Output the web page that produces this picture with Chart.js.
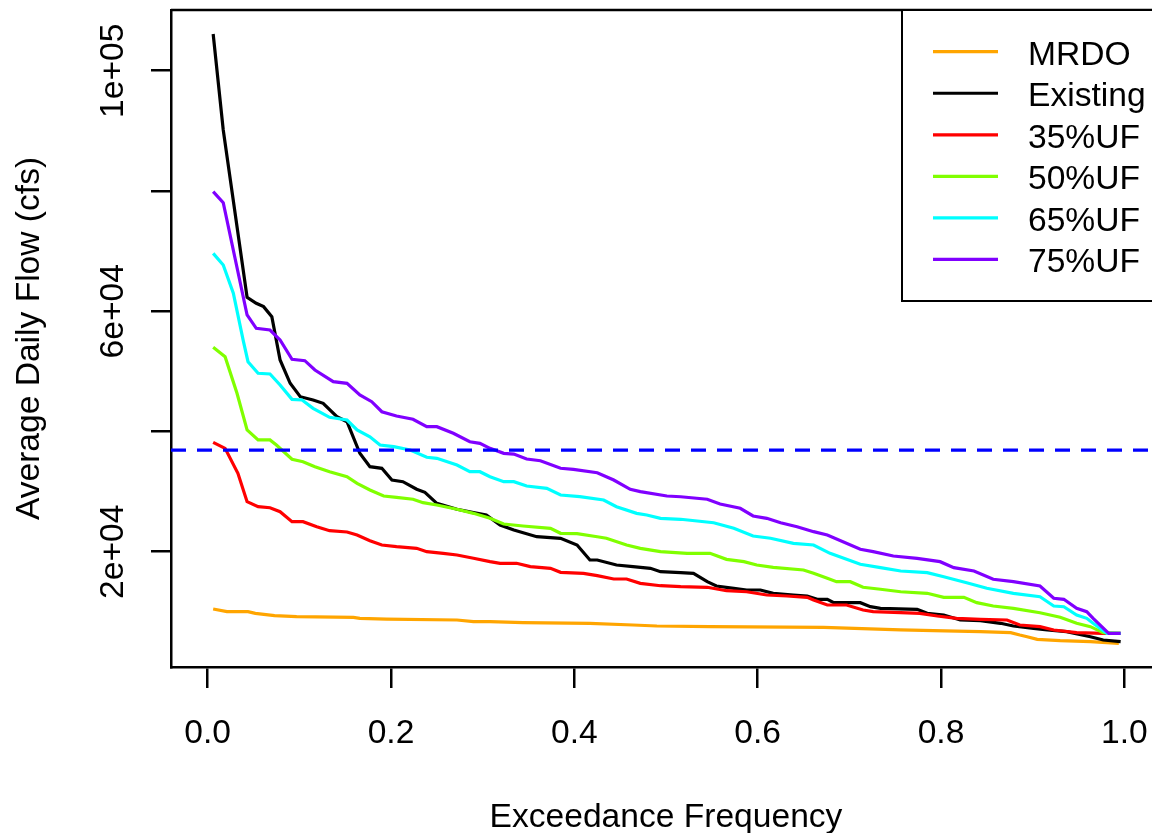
<!DOCTYPE html>
<html>
<head>
<meta charset="utf-8">
<script src="https://cdn.jsdelivr.net/npm/chart.js@4.4.1/dist/chart.umd.min.js"></script>
<style>
  html, body { margin: 0; padding: 0; background: #fff; }
  #wrap { width: 1152px; height: 833px; }
</style>
</head>
<body>
<div id="wrap"><canvas id="c" width="1152" height="833"></canvas></div>
<script>
// ---------- data ----------
const xTicks = [0, 0.2, 0.4, 0.6, 0.8, 1.0];
const xTickLabels = ["0.0", "0.2", "0.4", "0.6", "0.8", "1.0"];
const yTicks = [20000, 40000, 60000, 80000, 100000];
const yTickLabels = ["2e+04", "", "6e+04", "", "1e+05"];
const xTitle = "Exceedance Frequency";
const yTitle = "Average Daily Flow (cfs)";
const seriesNames = ["MRDO", "Existing", "35%UF", "50%UF", "65%UF", "75%UF"];
const referenceFlow = 36900;

const mrdoX = [0.006,0.021,0.044,0.052,0.073,0.097,0.159,0.166,0.195,0.272,0.290,0.308,0.344,0.417,0.464,0.490,0.548,0.672,0.756,0.792,0.843,0.876,0.886,0.894,0.905,0.930,0.963,0.994];
const mrdoY = [10480,10030,10030,9760,9370,9200,9090,8930,8810,8650,8370,8370,8200,8100,7820,7650,7540,7430,6990,6870,6710,6540,6150,5870,5430,5210,5040,4770];

const existingX = [0.006,0.017,0.043,0.053,0.061,0.070,0.079,0.090,0.101,0.115,0.126,0.141,0.152,0.166,0.177,0.190,0.201,0.213,0.228,0.237,0.250,0.272,0.290,0.304,0.319,0.334,0.359,0.385,0.403,0.417,0.425,0.446,0.464,0.483,0.494,0.516,0.530,0.545,0.555,0.574,0.588,0.603,0.617,0.639,0.654,0.665,0.676,0.683,0.712,0.723,0.734,0.774,0.785,0.803,0.821,0.843,0.865,0.879,0.901,0.916,0.937,0.963,0.977,0.996];
const existingY = [106110,90150,62320,61320,60760,59100,51890,48020,45790,45240,44680,42460,41630,36370,34150,33880,31930,31650,30390,29890,28050,27060,26500,26110,24450,23620,22500,22240,21120,18630,18630,17800,17520,17240,16690,16520,16410,15020,14300,13920,13640,13640,13090,12810,12640,12090,12090,11530,11530,10860,10590,10420,9760,9480,8650,8530,8100,7650,7270,6990,6710,5870,5320,5040];

const uf35X = [0.006,0.019,0.033,0.043,0.055,0.068,0.079,0.092,0.104,0.119,0.133,0.152,0.163,0.177,0.190,0.206,0.228,0.239,0.257,0.272,0.290,0.308,0.319,0.337,0.352,0.374,0.385,0.410,0.425,0.443,0.457,0.472,0.494,0.516,0.545,0.566,0.588,0.610,0.632,0.654,0.661,0.676,0.697,0.715,0.726,0.756,0.777,0.796,0.817,0.843,0.872,0.886,0.908,0.923,0.948,0.977,0.996];
const uf35Y = [38200,37200,33040,28330,27490,27320,26660,25000,25000,24170,23500,23290,22790,21840,21120,20840,20570,20010,19740,19460,18910,18350,18080,18080,17520,17240,16580,16410,16020,15470,15470,14750,14350,14190,14090,13520,13350,12810,12640,12420,11980,11140,11140,10310,10030,9860,9760,9310,8930,8760,8650,7820,7540,6990,6540,6440,6440];

const uf50X = [0.006,0.019,0.032,0.043,0.055,0.068,0.075,0.092,0.104,0.117,0.133,0.152,0.163,0.177,0.192,0.206,0.224,0.235,0.250,0.272,0.290,0.308,0.323,0.344,0.374,0.385,0.403,0.425,0.435,0.457,0.472,0.494,0.523,0.548,0.566,0.585,0.599,0.617,0.650,0.661,0.676,0.686,0.701,0.715,0.734,0.756,0.785,0.803,0.825,0.839,0.857,0.879,0.908,0.930,0.948,0.963,0.977,0.996];
const uf50Y = [54000,52440,46350,40250,38590,38590,37750,35380,34980,34150,33310,32480,31370,30270,29270,29050,28730,28160,27780,27060,26390,25560,24610,24280,23900,23070,23000,22500,22240,21120,20570,20010,19740,19740,18740,18350,17800,17410,16960,16410,15580,15020,15020,14090,13760,13350,13090,12420,12420,11530,10980,10590,9860,9100,8100,7540,6540,6440];

const uf65X = [0.006,0.017,0.028,0.039,0.044,0.055,0.068,0.079,0.092,0.103,0.115,0.133,0.152,0.163,0.177,0.188,0.203,0.221,0.239,0.250,0.272,0.286,0.297,0.308,0.323,0.334,0.348,0.370,0.385,0.406,0.432,0.446,0.468,0.479,0.494,0.516,0.552,0.574,0.595,0.614,0.639,0.661,0.679,0.712,0.734,0.756,0.785,0.803,0.828,0.850,0.879,0.908,0.923,0.934,0.948,0.959,0.966,0.981,0.996];
const uf65Y = [69630,67690,62990,55000,51610,49680,49560,47730,45350,45240,43860,42360,41910,40250,39130,37750,37470,36920,35710,35540,34430,33310,33310,32480,31650,31650,30940,30550,29440,29160,28610,27490,26390,26110,25560,25400,24830,23900,22620,22240,21400,21120,19740,17910,17350,16800,16520,15850,14850,13920,13090,12520,10980,10860,9480,8930,8100,6440,6440];

const uf75X = [0.006,0.017,0.043,0.053,0.068,0.079,0.092,0.106,0.117,0.137,0.152,0.166,0.179,0.190,0.206,0.224,0.239,0.250,0.268,0.286,0.297,0.308,0.323,0.334,0.348,0.363,0.385,0.399,0.425,0.443,0.461,0.472,0.501,0.516,0.545,0.559,0.581,0.595,0.610,0.625,0.643,0.661,0.676,0.712,0.726,0.748,0.774,0.799,0.814,0.836,0.857,0.879,0.908,0.923,0.934,0.948,0.959,0.966,0.983,0.996];
const uf75Y = [79880,78050,59380,57160,56880,55220,52000,51780,50230,48280,48010,46070,44960,43290,42580,42030,40800,40800,39700,38300,38030,37200,36370,36250,35430,35140,33880,33710,33150,31930,30390,29990,29270,29150,28730,27940,27230,25950,25560,24830,24170,23340,22790,20410,20010,19290,18910,18350,17350,16800,15420,15020,14300,12260,12090,10590,10030,8930,6440,6440];

// visible x range (the original plot region runs slightly past the image's right edge)
const xMin = -0.04, xMax = 1.0302, xCentre = 0.5;
const yMin = 832, yMax = 110100;

// ---------- build ----------
const pts = (xs, ys) => xs.map((v, i) => ({ x: v, y: ys[i] }));
const FONT = '"Liberation Sans", Arial, sans-serif';
const FS = 33.6;

function line(label, xs, ys, color, order) {
  return { label, data: pts(xs, ys), borderColor: color, backgroundColor: color,
    borderWidth: 3.2, pointRadius: 0, tension: 0, fill: false, order };
}

const datasets = [
  line(seriesNames[0], mrdoX, mrdoY, '#FFA500', 6),
  line(seriesNames[1], existingX, existingY, '#000000', 5),
  line(seriesNames[2], uf35X, uf35Y, '#FF0000', 4),
  line(seriesNames[3], uf50X, uf50Y, '#80FF00', 3),
  line(seriesNames[4], uf65X, uf65Y, '#00FFFF', 2),
  line(seriesNames[5], uf75X, uf75Y, '#8000FF', 1),
  { label: '', data: [{ x: xMin, y: referenceFlow }, { x: xMax, y: referenceFlow }],
    borderColor: '#0000FF', borderWidth: 3.2, borderDash: [15, 11], pointRadius: 0,
    fill: false, order: 0, isRef: true }
];

const rDecor = {
  id: 'rDecor',
  afterDraw(chart) {
    const { ctx, chartArea: a, scales: { x, y } } = chart;
    ctx.save();
    ctx.strokeStyle = '#000';
    ctx.fillStyle = '#000';
    ctx.lineWidth = 2.5;
    // top of box
    ctx.beginPath();
    ctx.moveTo(a.left, a.top); ctx.lineTo(a.right, a.top);
    ctx.stroke();

    ctx.font = FS + 'px ' + FONT;
    ctx.textBaseline = 'alphabetic';
    // x tick labels
    ctx.textAlign = 'center';
    xTicks.forEach((v, i) => ctx.fillText(xTickLabels[i], x.getPixelForValue(v), a.bottom + 76));
    // y tick labels (rotated like R's default las=0)
    yTicks.forEach((v, i) => {
      if (!yTickLabels[i]) return;
      ctx.save();
      ctx.translate(a.left - 48.5, y.getPixelForValue(v));
      ctx.rotate(-Math.PI / 2);
      ctx.fillText(yTickLabels[i], 0, 0);
      ctx.restore();
    });
    // axis titles
    ctx.fillText(xTitle, x.getPixelForValue(xCentre), a.bottom + 160);
    ctx.save();
    ctx.translate(a.left - 132.5, (a.top + a.bottom) / 2);
    ctx.rotate(-Math.PI / 2);
    ctx.fillText(yTitle, 0, 0);
    ctx.restore();

    // legend (top-right, inside plot; its right edge lies past the image edge)
    const lx = a.right - 250, ly = a.top, lw = 262, lh = 291;
    ctx.fillStyle = '#fff';
    ctx.fillRect(lx, ly, lw, lh);
    ctx.lineWidth = 2;
    ctx.strokeRect(lx, ly, lw, lh);
    const items = chart.data.datasets.filter(d => !d.isRef);
    items.forEach((d, i) => {
      const ry = ly + 41.7 + i * 41.55;
      ctx.strokeStyle = d.borderColor;
      ctx.lineWidth = 3.2;
      ctx.beginPath();
      ctx.moveTo(lx + 31, ry); ctx.lineTo(lx + 96, ry);
      ctx.stroke();
      ctx.fillStyle = '#000';
      ctx.textAlign = 'left';
      ctx.fillText(d.label, lx + 126, ry + 13);
    });
    ctx.restore();
  }
};

new Chart(document.getElementById('c'), {
  type: 'line',
  data: { datasets },
  options: {
    responsive: false,
    devicePixelRatio: 1,
    animation: false,
    layout: { padding: { top: 10, right: 0, left: 0, bottom: 0 } },
    plugins: { legend: { display: false }, tooltip: { enabled: false } },
    scales: {
      x: {
        type: 'linear', min: xMin, max: xMax,
        afterBuildTicks: s => { s.ticks = xTicks.map(v => ({ value: v })); },
        afterFit: s => { s.height = 166; },
        ticks: { display: false },
        grid: { drawOnChartArea: false, drawTicks: true, tickLength: 21, color: '#000', lineWidth: 2.5 },
        border: { display: true, color: '#000', width: 2.5 }
      },
      y: {
        type: 'linear', min: yMin, max: yMax,
        afterBuildTicks: s => { s.ticks = yTicks.map(v => ({ value: v })); },
        afterFit: s => { s.width = 171; },
        ticks: { display: false },
        grid: { drawOnChartArea: false, drawTicks: true, tickLength: 20, color: '#000', lineWidth: 2.5 },
        border: { display: true, color: '#000', width: 2.5 }
      }
    }
  },
  plugins: [rDecor]
});
</script>
</body>
</html>
